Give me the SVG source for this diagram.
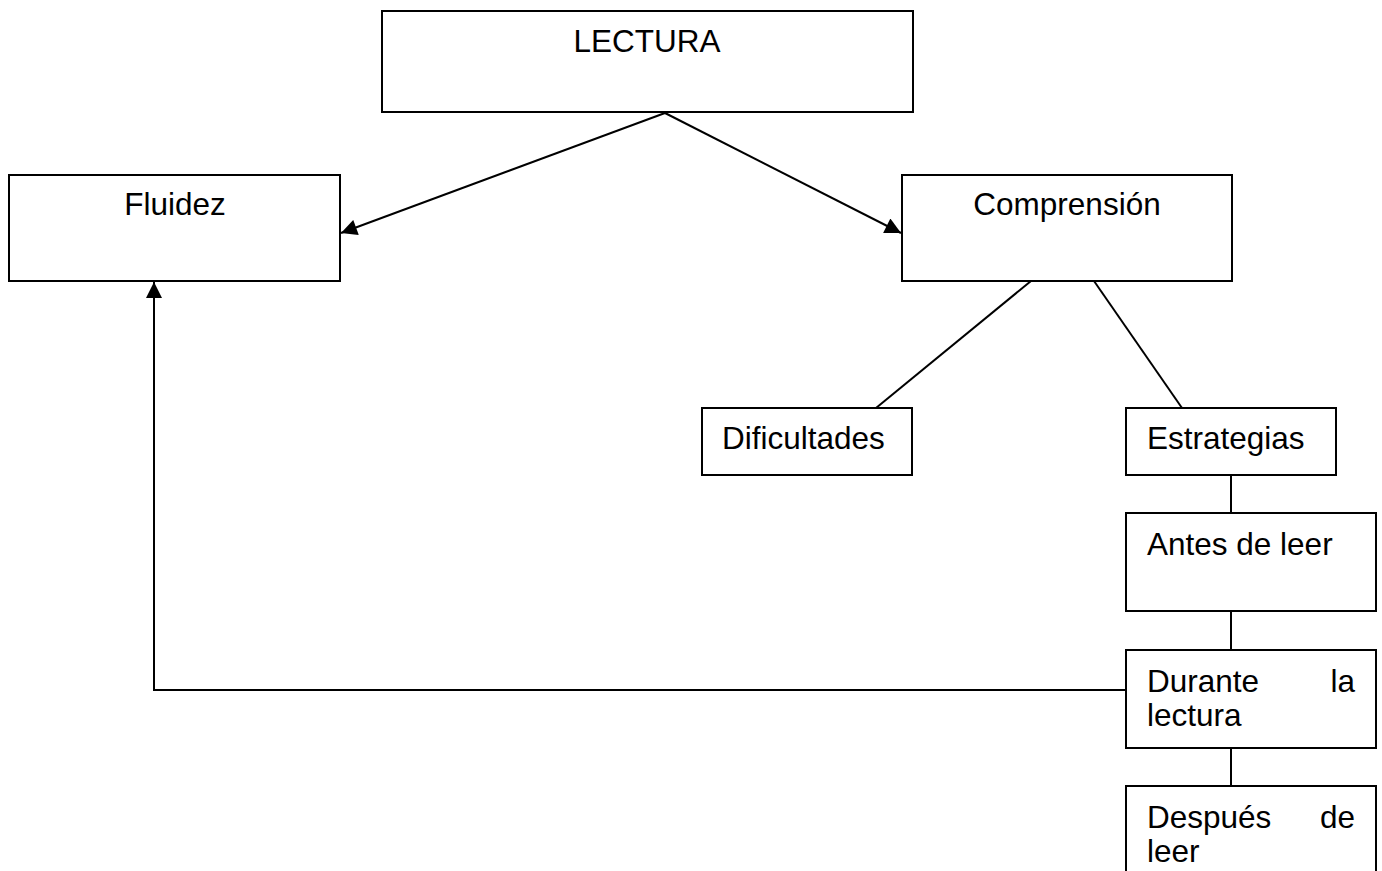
<svg xmlns="http://www.w3.org/2000/svg" width="1382" height="871" viewBox="0 0 1382 871">
<style>
.box{fill:#fff;stroke:#000;stroke-width:2}
.t{font-family:"Liberation Sans",Arial,sans-serif;font-size:31.5px;fill:#000}
.c{text-anchor:middle}
.r{text-anchor:end}
.ln{stroke:#000;stroke-width:2;fill:none}
</style>
<defs>
<marker id="a" viewBox="0 0 10 10" refX="10" refY="5" markerWidth="18" markerHeight="16" markerUnits="userSpaceOnUse" orient="auto">
<path d="M0,0 L10,5 L0,10 z" fill="#000"/>
</marker>
</defs>
<rect width="1382" height="871" fill="#fff"/>
<g id="connectors">
<line class="ln" x1="665" y1="113" x2="341" y2="233" marker-end="url(#a)"/>
<line class="ln" x1="665" y1="113" x2="901" y2="233" marker-end="url(#a)"/>
<line class="ln" x1="1031" y1="281" x2="876" y2="408"/>
<line class="ln" x1="1094" y1="281" x2="1182" y2="408"/>
<line class="ln" x1="1231" y1="475" x2="1231" y2="513"/>
<line class="ln" x1="1231" y1="611" x2="1231" y2="650"/>
<line class="ln" x1="1231" y1="748" x2="1231" y2="786"/>
<polyline class="ln" points="1126,690 154,690 154,282" marker-end="url(#a)"/>
</g>
<g id="lectura">
<rect class="box" x="382" y="11" width="531" height="101"/>
<text class="t c" x="647" y="52">LECTURA</text>
</g>
<g id="fluidez">
<rect class="box" x="9" y="175" width="331" height="106"/>
<text class="t c" x="175" y="215">Fluidez</text>
</g>
<g id="comprension">
<rect class="box" x="902" y="175" width="330" height="106"/>
<text class="t c" x="1067" y="215">Comprensión</text>
</g>
<g id="dificultades">
<rect class="box" x="702" y="408" width="210" height="67"/>
<text class="t" x="722" y="449">Dificultades</text>
</g>
<g id="estrategias">
<rect class="box" x="1126" y="408" width="210" height="67"/>
<text class="t" x="1147" y="449">Estrategias</text>
</g>
<g id="antes">
<rect class="box" x="1126" y="513" width="250" height="98"/>
<text class="t" x="1147" y="555">Antes de leer</text>
</g>
<g id="durante">
<rect class="box" x="1126" y="650" width="250" height="98"/>
<text class="t" x="1147" y="692">Durante</text>
<text class="t r" x="1355" y="692">la</text>
<text class="t" x="1147" y="726">lectura</text>
</g>
<g id="despues">
<rect class="box" x="1126" y="786" width="250" height="98"/>
<text class="t" x="1147" y="828">Después</text>
<text class="t r" x="1355" y="828">de</text>
<text class="t" x="1147" y="862">leer</text>
</g>
</svg>
